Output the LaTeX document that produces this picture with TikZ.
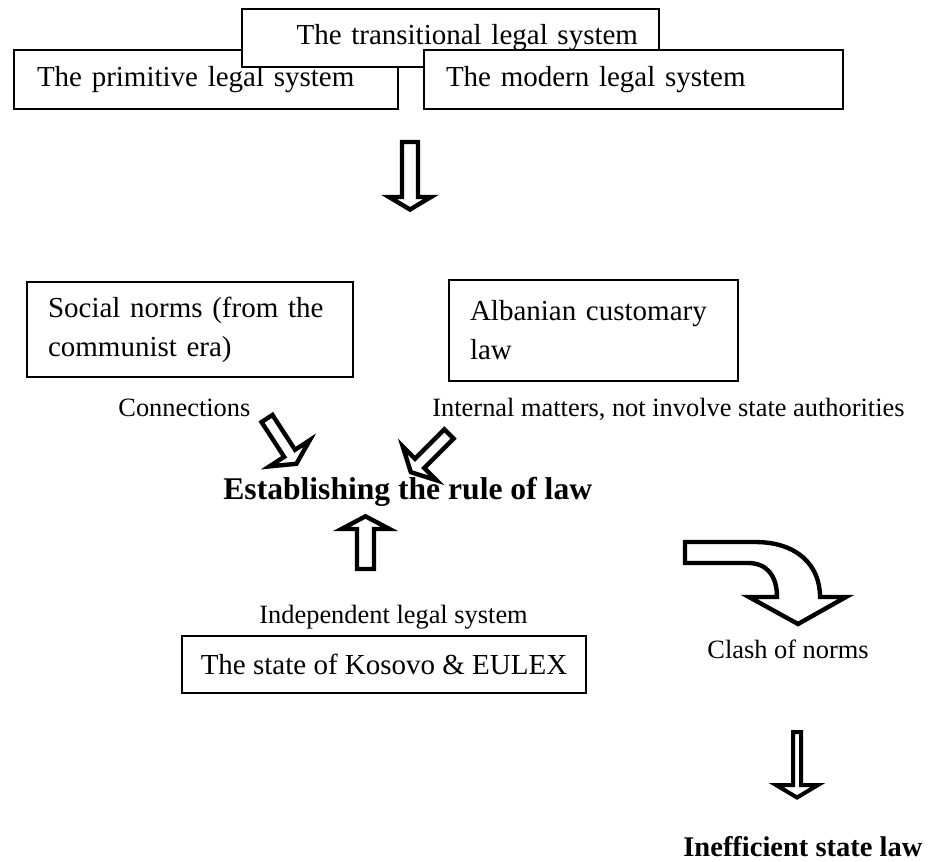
\documentclass[tikz,border=0pt]{standalone}
\usepackage{fontspec}
\setmainfont{Liberation Serif}

\tikzset{
  legalbox/.style={draw, line width=1pt, fill=white, anchor=north west, inner ysep=0pt, font=\fontsize{14.5}{19.5}\selectfont},
  caption/.style={anchor=base west, inner sep=0pt, font=\fontsize{13.2}{16}\selectfont},
  result/.style={anchor=base west, inner sep=0pt, font=\fontsize{15.8}{19}\selectfont\bfseries},
  hollow/.style={draw, line width=2.2pt, fill=white}
}

\begin{document}
\begin{tikzpicture}[x=0.5pt, y=-0.5pt]
\useasboundingbox (0,0) rectangle (930,861);
% the three legal systems
\node[legalbox, minimum width=192pt, minimum height=29.5pt, text width=169pt, inner xsep=11.5pt, align=left] (primitive) at (13,49) {The primitive legal system};
\node[legalbox, minimum width=208.5pt, minimum height=29pt, text width=187.5pt, inner xsep=10.5pt, align=right] (transitional) at (241,8) {The transitional legal system};
\node[legalbox, minimum width=209.5pt, minimum height=29.5pt, text width=187.5pt, inner xsep=11pt, align=left] (modern) at (423,49) {The modern legal system};
\draw[hollow, shift={(410,142)}, rotate=-90] (0,-8) -- (55,-8) -- (55,-21) -- (67.5,0) -- (55,21) -- (55,8) -- (0,8) -- cycle;
% sources of norms
\node[legalbox, minimum width=163pt, minimum height=47.5pt, text width=142pt, inner xsep=10.5pt, align=left] (social) at (26,281) {Social norms (from the\\communist era)};
\node[legalbox, minimum width=144.5pt, minimum height=50.5pt, text width=123.5pt, inner xsep=10.5pt, align=left] (customary) at (448,279) {Albanian customary\\law};
\node[caption] (connections) at (118,416) {Connections};
\node[caption] (internal) at (432,416) {Internal matters, not involve state authorities};
\draw[hollow, shift={(267,418.5)}, rotate=-57] (0,-6.5) -- (41.5,-6.5) -- (41.5,-24) -- (54,0) -- (41.5,24) -- (41.5,6.5) -- (0,6.5) -- cycle;
\draw[hollow, shift={(449,434)}, rotate=-135] (0,-6.5) -- (41.5,-6.5) -- (41.5,-24) -- (54,0) -- (41.5,24) -- (41.5,6.5) -- (0,6.5) -- cycle;
\node[result] (ruleoflaw) at (223,499) {Establishing the rule of law};
% state side
\draw[hollow, shift={(365.5,569)}, rotate=90] (0,-8.5) -- (40,-8.5) -- (40,-24) -- (52.7,0) -- (40,24) -- (40,8.5) -- (0,8.5) -- cycle;
\node[caption] (independent) at (259,623) {Independent legal system};
\node[legalbox, minimum width=202pt, minimum height=28.5pt] (kosovo) at (181,635) {The state of Kosovo \& EULEX};
% outcome
\draw[hollow] (685,542) -- (755,542) .. controls (797,542) and (820,565) .. (820,597) -- (846,597) -- (798,624) -- (749,597) -- (777,597) .. controls (777,576) and (767,563) .. (748,563) -- (685,563) -- cycle;
\node[caption] (clash) at (707,658) {Clash of norms};
\draw[hollow, line width=2pt, shift={(797,732)}, rotate=-90] (0,-4) -- (53,-4) -- (53,-21) -- (65.5,0) -- (53,21) -- (53,4) -- (0,4) -- cycle;
\node[result, font=\fontsize{14.25}{17}\selectfont\bfseries] (inefficient) at (683,856) {Inefficient state law};
\end{tikzpicture}
\end{document}
